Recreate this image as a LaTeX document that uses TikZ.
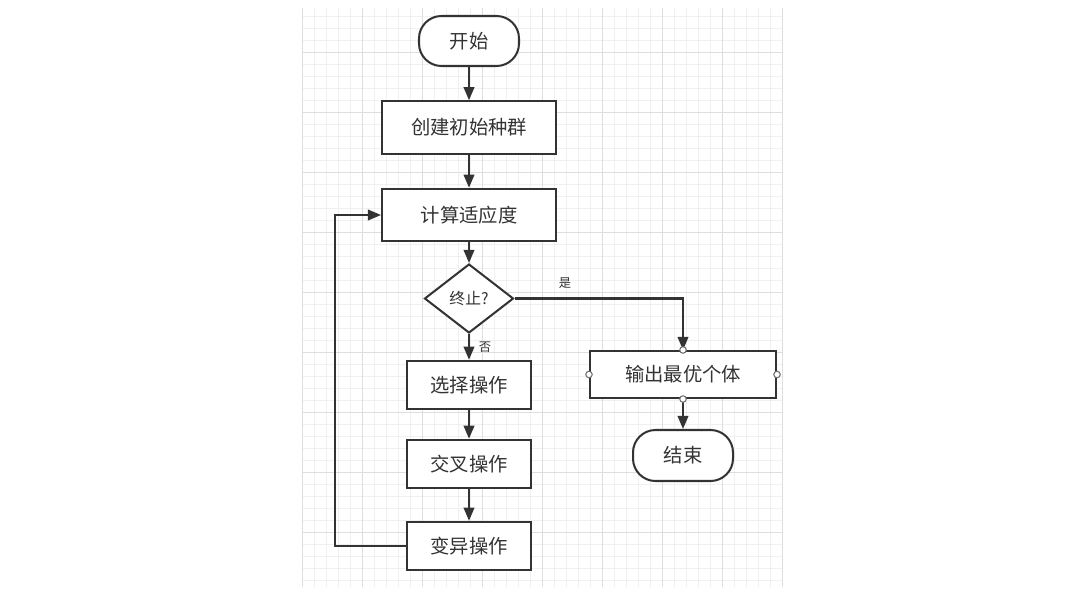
\documentclass[tikz,border=0pt]{standalone}
\usepackage{fontspec}
\setmainfont{Noto Sans CJK SC}
\usepackage{xcolor}
\usetikzlibrary{arrows.meta,shapes.geometric}
\definecolor{ln}{HTML}{333333}

\begin{document}
\begin{tikzpicture}[>={Triangle[length=2.6mm,width=2.1mm]},
   font=\fontsize{11}{13}\selectfont, line width=1.15pt, text=ln,
   term/.style={draw=ln,fill=white,rounded corners=0.45cm,minimum width=2cm,minimum height=1cm},
   proc/.style={draw=ln,fill=white,minimum width=3.48cm,minimum height=1.05cm},
   op/.style={draw=ln,fill=white,minimum width=2.48cm,minimum height=0.97cm},
   dec/.style={diamond,draw=ln,fill=white,minimum width=1.78cm,minimum height=1.38cm,inner sep=0pt,font=\fontsize{9}{11}\selectfont},
   lab/.style={font=\fontsize{7}{9}\selectfont,inner sep=1pt},
   port/.style={draw=ln!70,fill=white,line width=0.6pt}]
  \useasboundingbox[fill=white] (0,0) rectangle (21.6,11.88);
  % grid paper
  \begin{scope}[shift={(6.04,0.04)}]
    \draw[black!6,line width=0.4pt,step=0.24] (0,0.1) grid (9.6,11.68);
    \draw[black!13,line width=0.5pt,step=1.2] (0,0.1) grid (9.6,11.68);
  \end{scope}
  \node[term] (start) at (9.38,11.06) {开始};
  \node[proc] (init) at (9.38,9.33) {创建初始种群};
  \node[proc] (fit) at (9.38,7.58) {计算适应度};
  \node[dec] (stop) at (9.38,5.91) {终止?};
  \node[op] (sel) at (9.38,4.18) {选择操作};
  \node[op] (cross) at (9.38,2.60) {交叉操作};
  \node[op] (mut) at (9.38,0.96) {变异操作};
  \node[proc,minimum width=3.72cm,minimum height=0.94cm] (out) at (13.66,4.39) {输出最优个体};
  \node[term,minimum height=1.02cm] (end) at (13.66,2.77) {结束};
  \coordinate (back) at (6.70,0.96);
  \draw[->,ln] (start) -- (init);
  \draw[->,ln] (init) -- (fit);
  \draw[->,ln] (fit) -- (stop);
  \draw[->,ln] (stop) -- node[lab,right=4pt]{否} (sel);
  \draw[->,ln] (stop.east) -| node[lab,above=4pt,pos=0.15]{是} (out.north);
  \draw[->,ln] (sel) -- (cross);
  \draw[->,ln] (cross) -- (mut);
  \draw[->,ln] (mut.west) -- (back) |- (fit.west);
  \draw[->,ln] (out) -- (end);
  \foreach \a in {north,south,east,west}
    \draw[port] (out.\a) circle (0.065);
\end{tikzpicture}
\end{document}
